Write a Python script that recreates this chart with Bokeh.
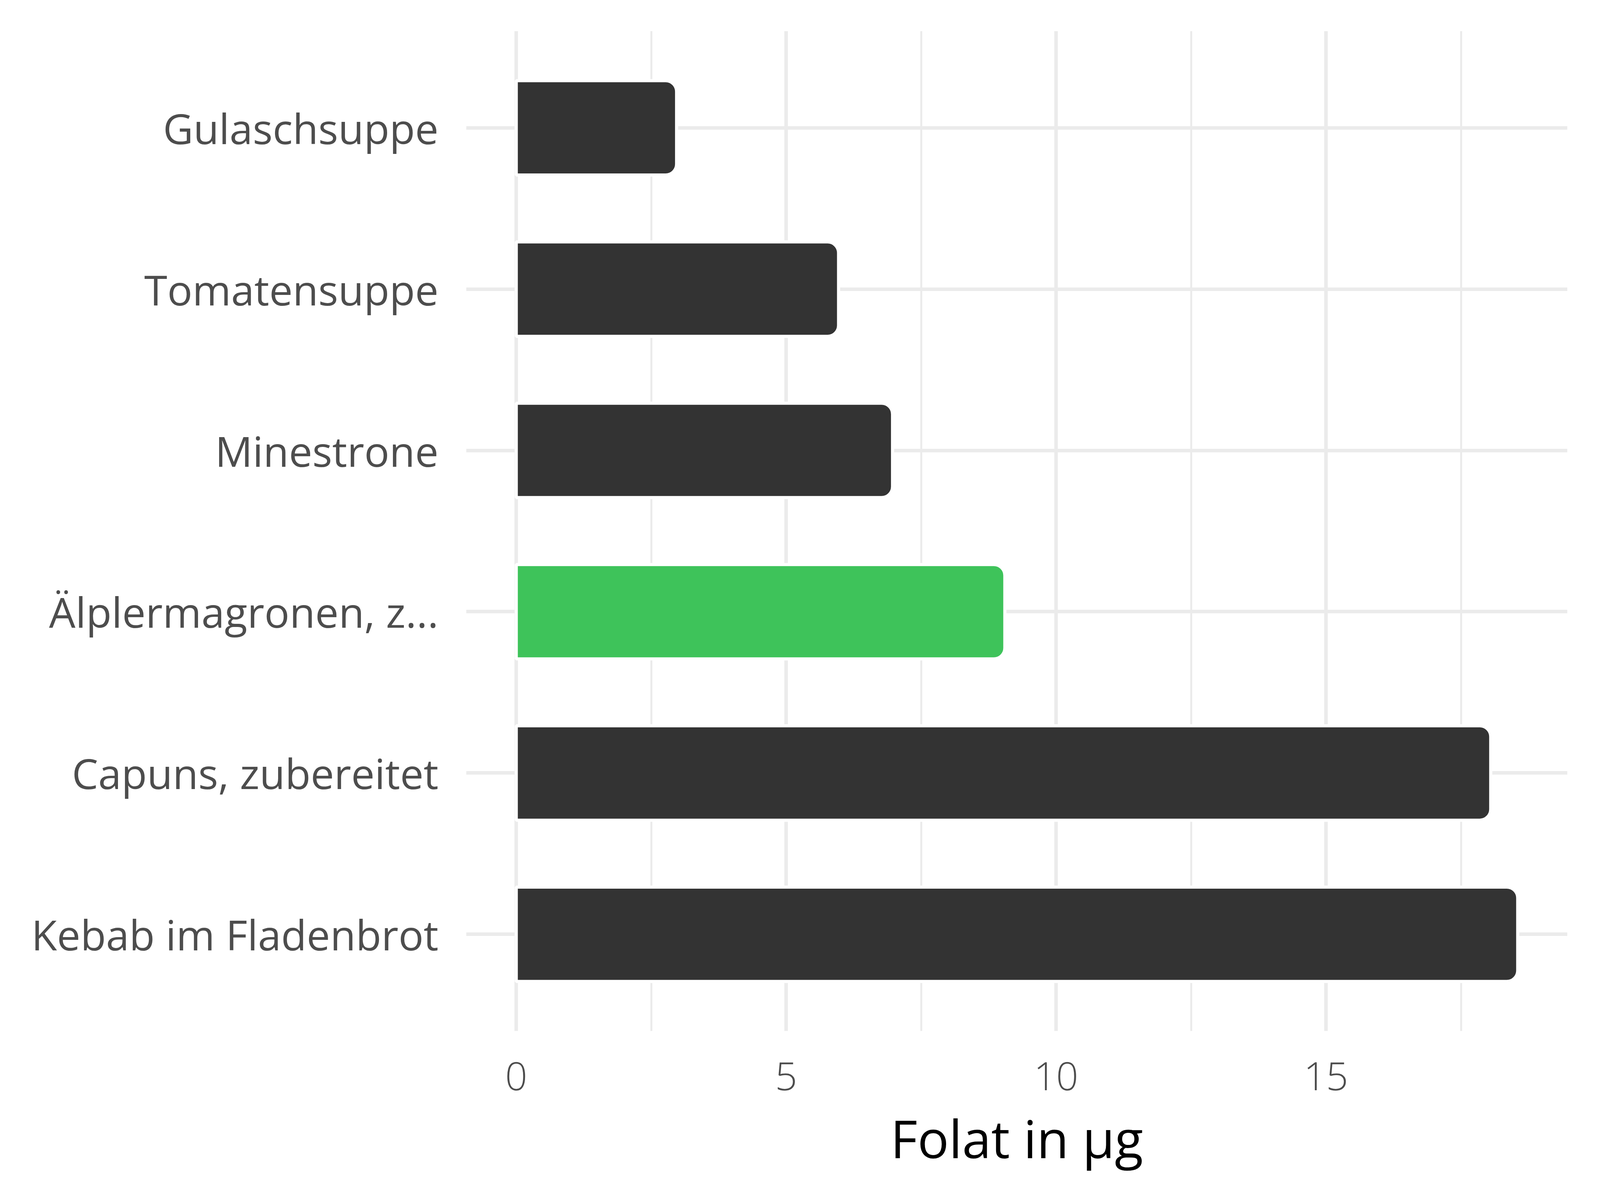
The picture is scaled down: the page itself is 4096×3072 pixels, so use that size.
from bokeh.plotting import figure
from bokeh.models import Range1d, FixedTicker, ColumnDataSource
from bokeh.embed import file_html
from bokeh.resources import INLINE

categories = ["Kebab im Fladenbrot", "Capuns, zubereitet", "Älplermagronen, z...",
              "Minestrone", "Tomatensuppe", "Gulaschsuppe"]
values = [18.55, 18.05, 9.05, 6.97, 5.97, 2.97]
colors = ["#333333", "#333333", "#3EC35A", "#333333", "#333333", "#333333"]
x_ticks = [0, 5, 10, 15]
x_minor = [2.5, 7.5, 12.5, 17.5]
x_label = "Folat in µg"

pos = list(range(1, len(categories) + 1))
src = ColumnDataSource(dict(y=pos, v=values, c=colors))

p = figure(width=4080, height=3056, output_backend="svg", toolbar_location=None,
           x_range=Range1d(-0.927, 19.47), y_range=Range1d(0.4, 6.6),
           min_border_left=1193, min_border_right=68, min_border_top=79, min_border_bottom=417)
p.frame_width = 2819
p.frame_height = 2560
p.outline_line_color = None
p.background_fill_color = "white"

p.hbar(y="y", right="v", left=0, height=0.585, fill_color="c", line_color="white",
       line_width=8, source=src, border_radius=(0, 28, 28, 0))

p.xaxis.ticker = FixedTicker(ticks=x_ticks, minor_ticks=x_minor)
p.yaxis.ticker = FixedTicker(ticks=pos)
p.yaxis.major_label_overrides = {i: c for i, c in zip(pos, categories)}

for ax in (p.xaxis[0], p.yaxis[0]):
    ax.axis_line_color = None
    ax.major_tick_line_color = None
    ax.minor_tick_line_color = None
    ax.major_label_text_font = "Open Sans"
    ax.major_label_text_color = "#4D4D4D"
p.xaxis.major_label_text_font_size = "100px"
p.yaxis.major_label_text_font_size = "107px"
p.yaxis.major_label_standoff = 65
p.xaxis.major_label_standoff = 72
p.xaxis.axis_label = x_label
p.xaxis.axis_label_text_font = "Open Sans"
p.xaxis.axis_label_text_font_size = "134px"
p.xaxis.axis_label_text_font_style = "normal"
p.xaxis.axis_label_text_color = "black"
p.xaxis.axis_label_standoff = 28

p.xgrid.grid_line_color = "#EBEBEB"
p.xgrid.grid_line_width = 9
p.xgrid.minor_grid_line_color = "#EBEBEB"
p.xgrid.minor_grid_line_width = 5
p.ygrid.grid_line_color = "#EBEBEB"
p.ygrid.grid_line_width = 9

open("out.html", "w").write(file_html(p, INLINE))
